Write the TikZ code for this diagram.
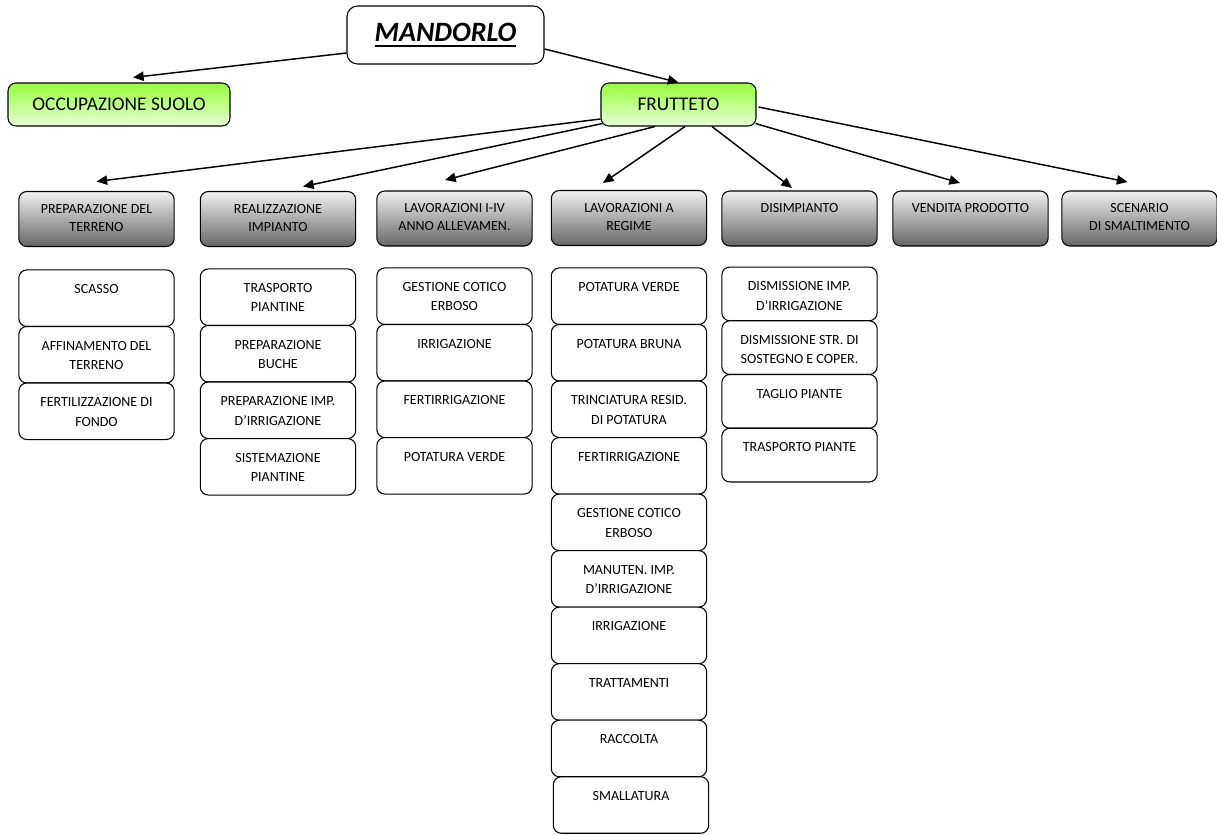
\documentclass[tikz,border=0pt]{standalone}
\usepackage{fontspec}
\setmainfont{Carlito}
\usepackage{xcolor}
\usepackage{tikz}
\usetikzlibrary{positioning,calc,arrows.meta}

\definecolor{greentop}{HTML}{96FF3C}
\definecolor{greenbot}{HTML}{E8FFD9}
\definecolor{graytop}{HTML}{F0F0F0}
\definecolor{graymid}{HTML}{C4C4C4}
\definecolor{graybot}{HTML}{666666}

\newcommand{\thickul}[1]{\setbox0=\hbox{#1}\rlap{\rule[-4.5pt]{\wd0}{1.5pt}}\box0}

\tikzset{
    arr/.style={line width=1.1pt, -{Triangle[length=8pt,width=7pt]}},
    headbox/.style={draw, rounded corners=8pt, line width=0.8pt, fill=white,
        minimum width=147.75pt, minimum height=43.5pt,
        font=\fontsize{21}{25}\selectfont\bfseries\itshape},
    greenbox/.style={draw, rounded corners=6pt, line width=0.8pt,
        top color=greentop, bottom color=greenbot, minimum height=32.25pt,
        font=\fontsize{14.5}{17}\selectfont},
    phase/.style={draw, rounded corners=6pt, line width=0.8pt, outer sep=0pt,
        top color=graytop, middle color=graymid, bottom color=graybot, inner sep=0pt,
        font=\fontsize{10.5}{13.5}\selectfont,
        execute at begin node={\begin{minipage}[c][41.25pt][t]{116.5pt}\centering\vspace*{6.7pt}\strut},
        execute at end node={\end{minipage}}},
    task/.style={draw, rounded corners=6pt, line width=0.8pt, outer sep=0pt,
        fill=white, inner sep=0pt, font=\fontsize{10.5}{14.5}\selectfont,
        execute at begin node={\begin{minipage}[c][#1][t]{116.5pt}\centering\vspace*{7.6pt}\strut},
        execute at end node={\end{minipage}}},
    task/.default=42.4pt,
}

\begin{document}
\begin{tikzpicture}[x=0.75pt,y=-0.75pt]
    \useasboundingbox (0,0) rectangle (1217,835);

    % Top level
    \node[headbox] (mandorlo) at (445.5,35) {\thickul{MANDORLO}};
    \node[greenbox, minimum width=166.5pt] (occup) at (119,104.5) {OCCUPAZIONE SUOLO};
    \node[greenbox, minimum width=116.25pt] (frutteto) at (678.5,104.5) {FRUTTETO};

    \draw[arr] ($(mandorlo.west)+(0,18)$) -- ($(occup.north)+(14,-5)$);
    \draw[arr] ($(mandorlo.east)+(0,14)$) -- (frutteto.north);

    % Phases
    \node[phase] (prep) at (96.5,219) {PREPARAZIONE DEL\\TERRENO};
    \node[phase] (real) at (278,219) {REALIZZAZIONE\\IMPIANTO};
    \node[phase] (lavall) at (454.5,218.5) {LAVORAZIONI I-IV\\ANNO ALLEVAMEN.};
    \node[phase] (lavreg) at (629,218) {LAVORAZIONI A\\REGIME};
    \node[phase] (disimp) at (799.5,218.5) {DISIMPIANTO};
    \node[phase] (vendita) at (970.5,218.5) {VENDITA PRODOTTO};
    \node[phase] (scenario) at (1139.5,218.5) {SCENARIO\\DI SMALTIMENTO};

    \draw[arr] ($(frutteto.west)+(0,14.5)$) -- ($(prep.north)+(0,-10)$);
    \draw[arr] ($(frutteto.south west)+(2,-3)$) -- ($(real.north)+(25,-5)$);
    \draw[arr] ($(frutteto.south)+(-23.5,0)$) -- ($(lavall.north)+(-9.5,-11)$);
    \draw[arr] ($(frutteto.south)+(6.5,0)$) -- ($(lavreg.north)+(-26,-7.5)$);
    \draw[arr] ($(frutteto.south)+(33.5,0)$) -- ($(disimp.north)+(-7.5,-3)$);
    \draw[arr] ($(frutteto.south east)+(-1,-3)$) -- ($(vendita.north)+(-10.5,-8)$);
    \draw[arr] ($(frutteto.east)+(2,2.5)$) -- ($(scenario.north)+(-12,-9)$);

    % Preparazione del terreno
    \node[task] (c1a) at (96.5,298.2) {SCASSO};
    \node[task, below=0pt of c1a] (c1b) {AFFINAMENTO DEL\\TERRENO};
    \node[task, below=0pt of c1b] (c1c) {FERTILIZZAZIONE DI\\FONDO};

    % Realizzazione impianto
    \node[task] (c2a) at (278,297.2) {TRASPORTO\\PIANTINE};
    \node[task, below=0pt of c2a] (c2b) {PREPARAZIONE\\BUCHE};
    \node[task, below=0pt of c2b] (c2c) {PREPARAZIONE IMP.\\D’IRRIGAZIONE};
    \node[task, below=0pt of c2c] (c2d) {SISTEMAZIONE\\PIANTINE};

    % Lavorazioni allevamento
    \node[task] (c3a) at (454.5,296.2) {GESTIONE COTICO\\ERBOSO};
    \node[task, below=0pt of c3a] (c3b) {IRRIGAZIONE};
    \node[task, below=0pt of c3b] (c3c) {FERTIRRIGAZIONE};
    \node[task, below=0pt of c3c] (c3d) {POTATURA VERDE};

    % Lavorazioni a regime
    \node[task] (c4a) at (629,296.2) {POTATURA VERDE};
    \node[task, below=0pt of c4a] (c4b) {POTATURA BRUNA};
    \node[task, below=0pt of c4b] (c4c) {TRINCIATURA RESID.\\DI POTATURA};
    \node[task, below=0pt of c4c] (c4d) {FERTIRRIGAZIONE};
    \node[task, below=0pt of c4d] (c4e) {GESTIONE COTICO\\ERBOSO};
    \node[task, below=0pt of c4e] (c4f) {MANUTEN. IMP.\\D’IRRIGAZIONE};
    \node[task, below=0pt of c4f] (c4g) {IRRIGAZIONE};
    \node[task, below=0pt of c4g] (c4h) {TRATTAMENTI};
    \node[task, below=0pt of c4h] (c4i) {RACCOLTA};
    \node[task, below=0pt of c4i, xshift=1.5pt] (c4j) {SMALLATURA};

    % Disimpianto
    \node[task=40.3pt] (c5a) at (799.5,293.9) {DISMISSIONE IMP.\\D’IRRIGAZIONE};
    \node[task=40.3pt, below=0pt of c5a] (c5b) {DISMISSIONE STR. DI\\SOSTEGNO E COPER.};
    \node[task=40.3pt, below=0pt of c5b] (c5c) {TAGLIO PIANTE};
    \node[task=40.3pt, below=0pt of c5c] (c5d) {TRASPORTO PIANTE};
\end{tikzpicture}
\end{document}
